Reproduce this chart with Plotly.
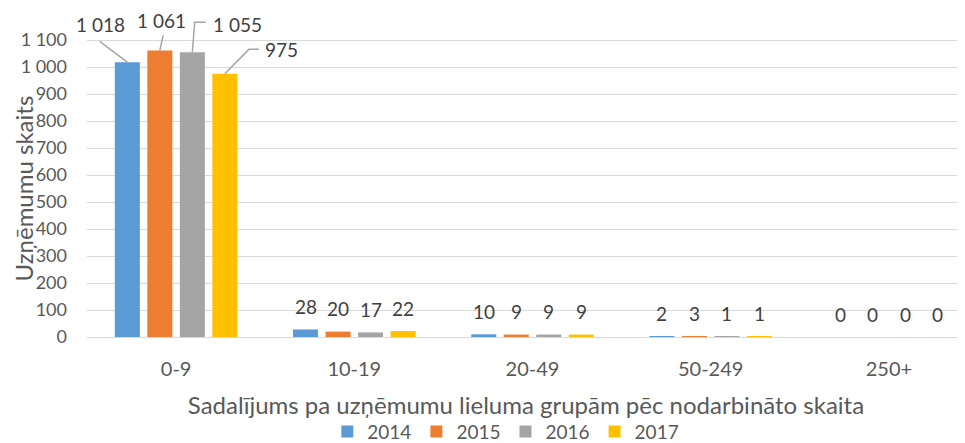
import plotly.graph_objects as go

categories = ["0-9", "10-19", "20-49", "50-249", "250+"]
years = ["2014", "2015", "2016", "2017"]
v2014 = [1018, 28, 10, 2, 0]
v2015 = [1061, 20, 9, 3, 0]
v2016 = [1055, 17, 9, 1, 0]
v2017 = [975, 22, 9, 1, 0]
series = [v2014, v2015, v2016, v2017]
colors = ["#5B9BD5", "#ED7D31", "#A5A5A5", "#FFC000"]
y_ticks = list(range(0, 1101, 100))
y_title = "Uzņēmumu skaits"
x_title = "Sadalījums pa uzņēmumu lieluma grupām pēc nodarbināto skaita"

# first-group labels: text offset (px, right/up) and leader-line path (px) from bar top
label_shift = [(-27, 38), (2, 30), (45, 28), (57, 24)]
leader_paths = [
    "M 0 0 L -27.7 20.7",
    "M 0 0 L 3.3 15",
    "M 0 0 L 2.3 30 L 13.3 30",
    "M 0 0 L 24 24.4 L 34 24.4",
]

BARGAP = 0.27
GROUPGAP = 0.23
FONT = "Lato"
TXT = "#595959"
LBL = "#404040"

def fmt(v):
    return f"{v:,}".replace(",", " ")

fig = go.Figure()
for name, vals, col in zip(years, series, colors):
    fig.add_trace(go.Bar(x=categories, y=vals, name=name, marker_color=col,
                         marker_line_width=0))

annotations = []
shapes = []
n = len(series)
for si, vals in enumerate(series):
    off = (si - (n - 1) / 2) * (1 - BARGAP) / n
    for ci, v in enumerate(vals):
        xpos = ci + off
        if ci == 0:
            dx, dy = label_shift[si]
            annotations.append(dict(x=xpos, y=v, xref="x", yref="y", text=fmt(v),
                                    showarrow=False, xanchor="center", yanchor="middle",
                                    xshift=dx, yshift=dy,
                                    font=dict(family=FONT, size=19, color=LBL)))
            shapes.append(dict(type="path", xref="x", yref="y",
                               xsizemode="pixel", ysizemode="pixel",
                               xanchor=xpos, yanchor=v, path=leader_paths[si],
                               line=dict(color="#A6A6A6", width=1.5)))
        else:
            annotations.append(dict(x=xpos, y=v, xref="x", yref="y", text=fmt(v),
                                    showarrow=False, yanchor="middle", yshift=23,
                                    font=dict(family=FONT, size=19, color=LBL)))

# y-axis title, centred on the tick span
annotations.append(dict(x=0, y=y_ticks[-1] / 2, xref="paper", yref="y", text=y_title,
                        textangle=-90, showarrow=False, xanchor="center", yanchor="middle",
                        xshift=-64, font=dict(family=FONT, size=24, color=TXT)))

# the page body adds an 8px offset; the figure is sized to fit inside the window
fig.update_layout(
    width=957, height=435,
    margin=dict(l=79, r=0, t=5, b=106, autoexpand=False),
    paper_bgcolor="white", plot_bgcolor="white",
    barmode="group", bargap=BARGAP, bargroupgap=GROUPGAP,
    separators=". ",
    font=dict(family=FONT, color=TXT, size=18),
    annotations=annotations,
    shapes=shapes,
    showlegend=True,
    legend=dict(orientation="h", x=0.477, xanchor="center", y=-0.292, yanchor="middle",
                font=dict(family=FONT, size=19, color=TXT), itemwidth=30,
                traceorder="normal", tracegroupgap=0),
    xaxis=dict(range=[-0.5, 4.427], showgrid=False, showline=True, linecolor="#D9D9D9",
               linewidth=1, ticks="", tickfont=dict(size=20, color=TXT),
               ticklabelstandoff=14, automargin=False,
               title=dict(text=x_title, font=dict(size=24, color=TXT), standoff=18)),
    yaxis=dict(range=[0, 1200], tickvals=y_ticks, tickformat=",d", showgrid=True,
               gridcolor="#D9D9D9", gridwidth=1, zeroline=False, showline=False,
               tickfont=dict(size=18, color=TXT), ticks="", ticklabelstandoff=19,
               automargin=False),
)

fig.write_html("out.html")
